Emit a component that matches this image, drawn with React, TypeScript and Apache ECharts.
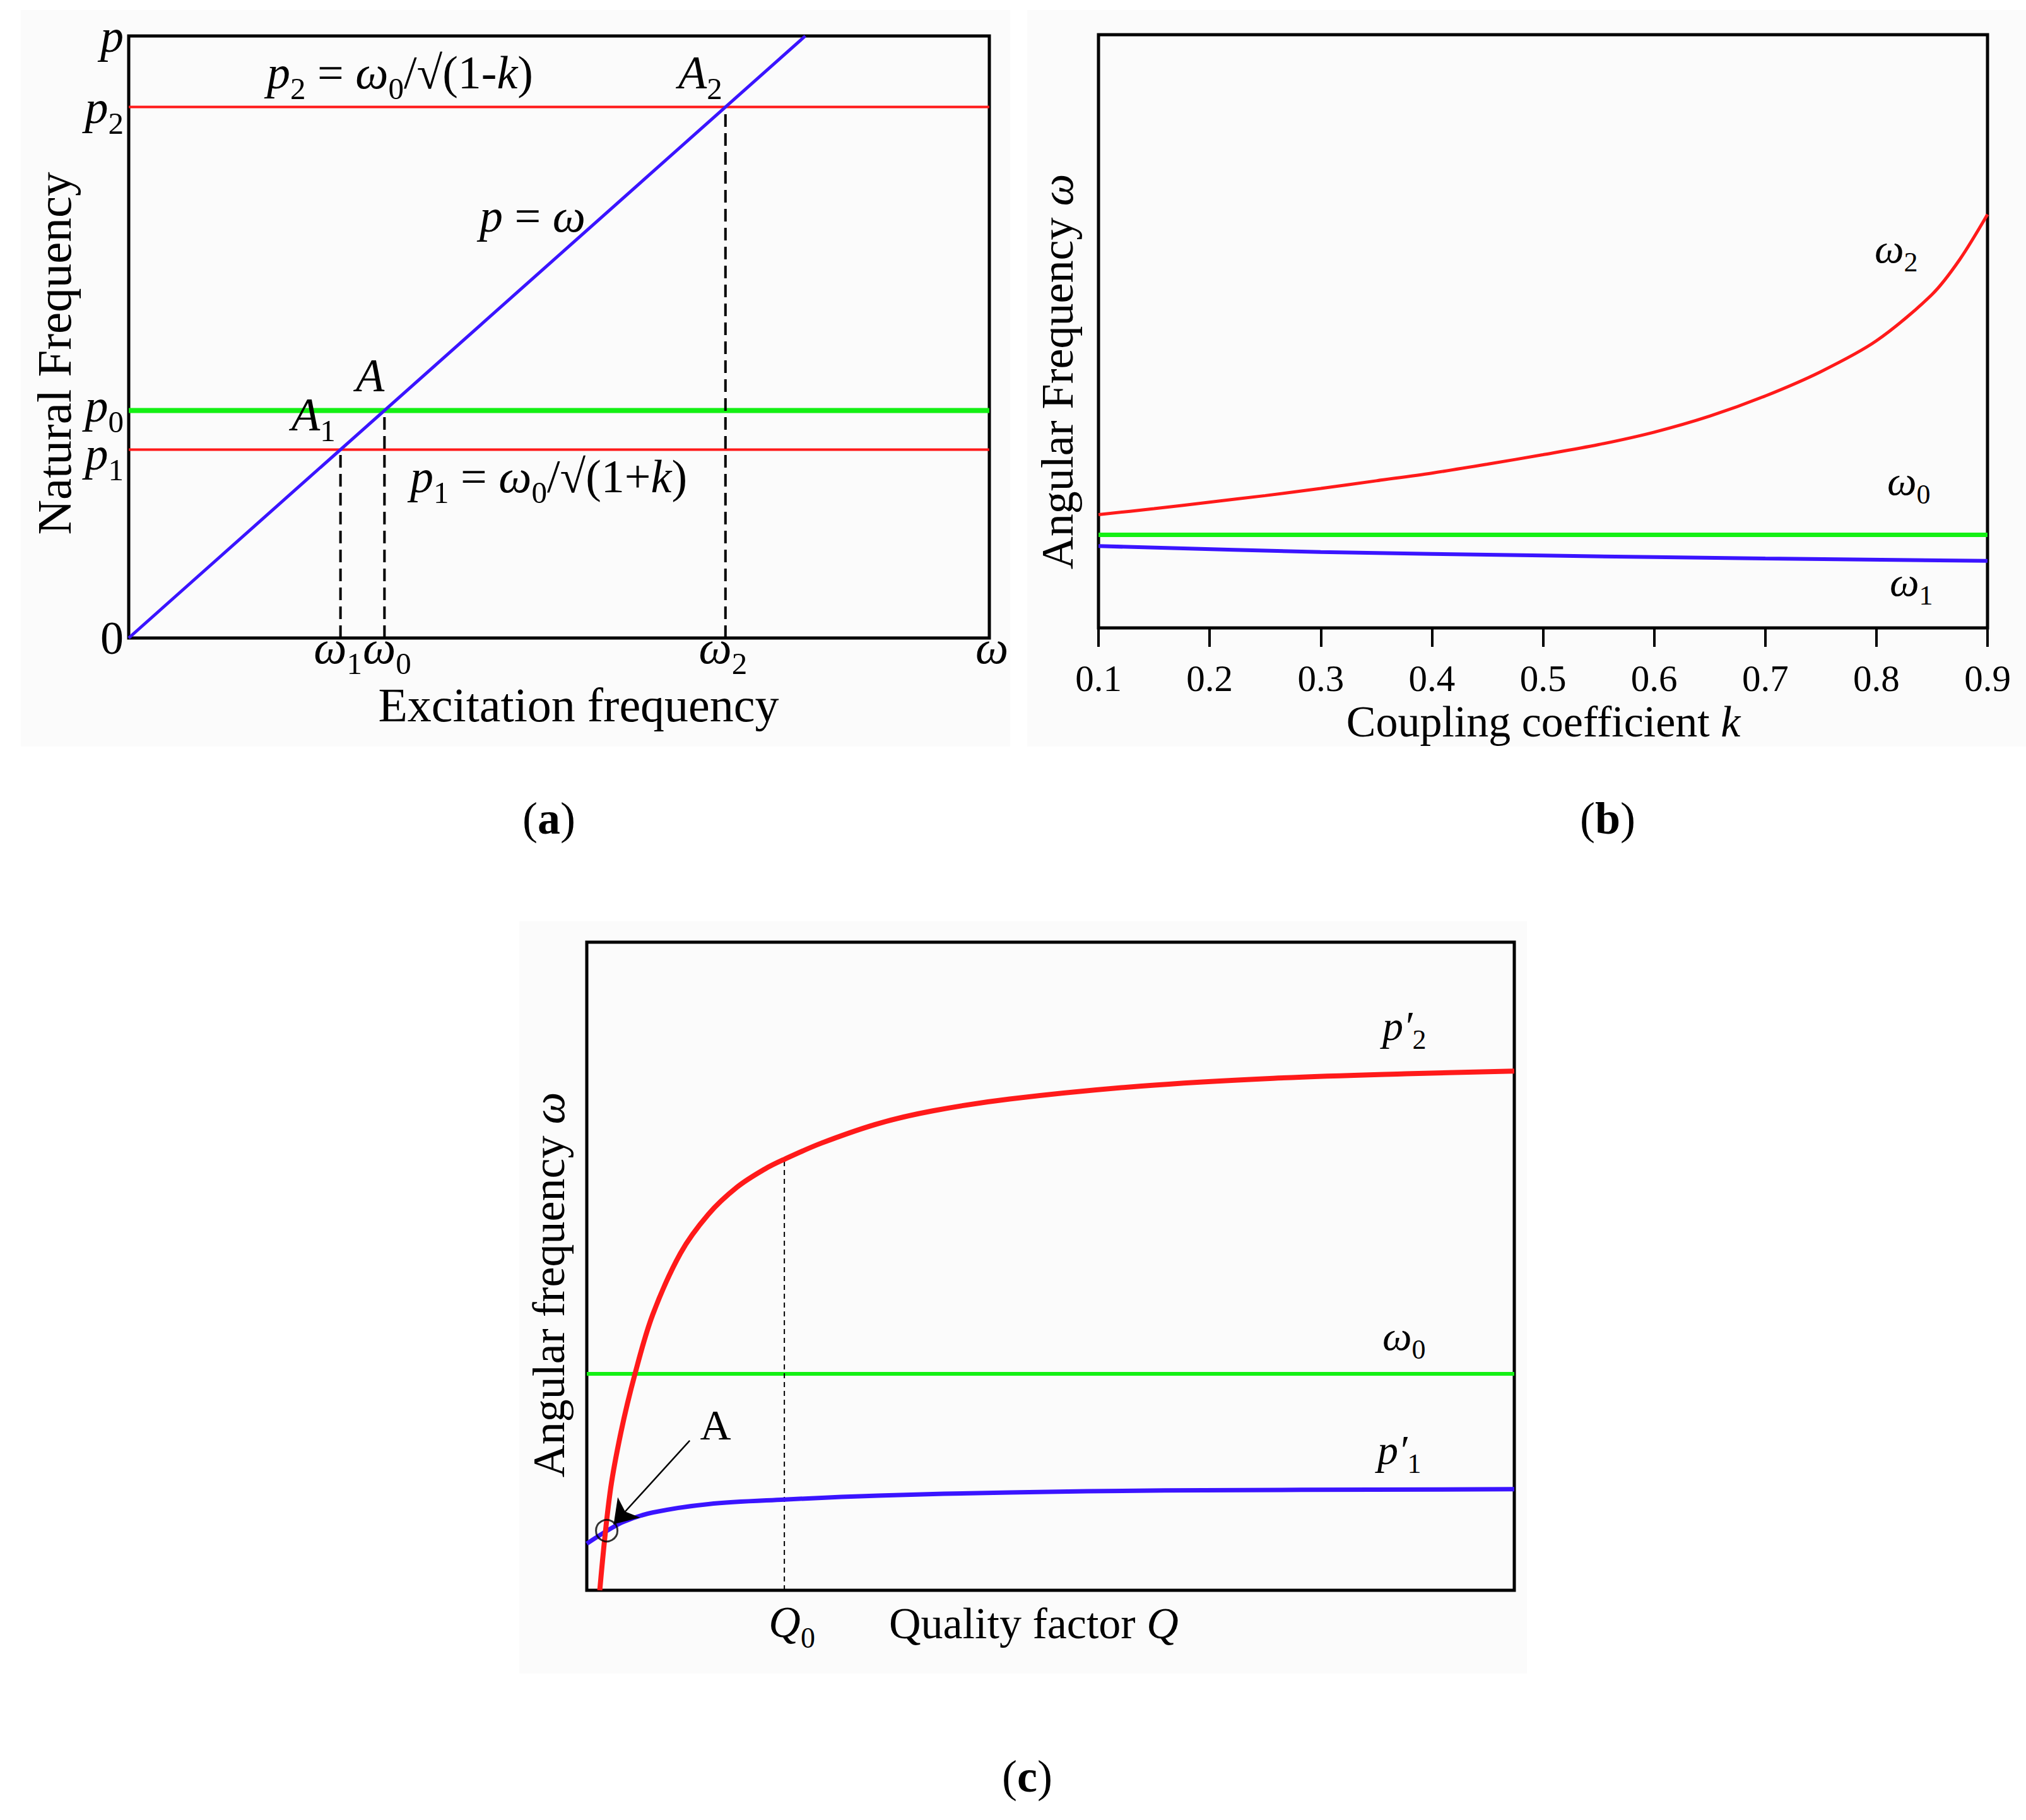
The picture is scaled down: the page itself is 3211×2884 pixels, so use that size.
import React, { useEffect, useRef } from 'react';
import * as echarts from 'echarts';

const SERIF = "'Liberation Serif', 'Times New Roman', serif";
const RED = '#ff1a1a';
const GREEN = '#14f014';
const BLUE = '#3a14ff';

// ---------- Panel (a) ----------
const aOmegaMax = 12.72;
const aPMax = 10;
const aDiagonal = [[0, 0], [10, 10]];
const aLevelP1 = 3.13;
const aLevelP0 = 3.78;
const aLevelP2 = 8.82;
const aXTickValues = [3.13, 3.78, 8.82, 12.72];
const aXTickSymbols = ['ω', 'ω', 'ω', 'ω'];
const aXTickSubs = ['1', '0', '2', ''];
const aYTickValues = [0, 3.13, 3.78, 8.82, 10];
const aYTickSymbols = ['0', 'p', 'p', 'p', 'p'];
const aYTickSubs = ['', '1', '0', '2', ''];

// ---------- Panel (b) ----------
const bK = [0.1, 0.15, 0.2, 0.25, 0.3, 0.35, 0.4, 0.45, 0.5, 0.55, 0.6, 0.65, 0.7, 0.75, 0.8, 0.85, 0.875, 0.9];
const bOmega2 = [1.91, 2.01, 2.12, 2.23, 2.35, 2.48, 2.61, 2.76, 2.92, 3.09, 3.3, 3.57, 3.91, 4.32, 4.84, 5.62, 6.21, 6.97];
const bK1 = [0.1, 0.3, 0.5, 0.7, 0.9];
const bOmega1 = [1.38, 1.28, 1.22, 1.17, 1.13];
const bOmega0 = 1.57;

// ---------- Panel (c) ----------
const cQ2 = [1.4, 2.5, 3.7, 5.2, 7.1, 10.1, 13.1, 16.2, 19.2, 21.3, 25.3, 31.4, 37.4, 45.6, 59.8, 74, 88.3, 100];
const cP2 = [0, 1.5, 2.45, 3.34, 4.25, 5.2, 5.8, 6.22, 6.5, 6.65, 6.9, 7.2, 7.4, 7.58, 7.78, 7.9, 7.97, 8.01];
const cQ1 = [0, 2.2, 4.0, 7.1, 13.1, 21.3, 31.4, 45.6, 62.3, 100];
const cP1 = [0.72, 0.92, 1.06, 1.2, 1.33, 1.4, 1.46, 1.51, 1.54, 1.56];
const cOmega0 = 3.34;
const cQ0 = 21.3;
const cQ0Level = 6.65;
const cPointA = [2.15, 0.92];
const cArrowFrom = [11.1, 2.31];
const cArrowTo = [2.9, 1.02];

const mkRich = (s: number) => ({
  i: { fontFamily: SERIF, fontStyle: 'italic', fontSize: s, lineHeight: Math.round(s * 1.35), color: '#000' },
  r: { fontFamily: SERIF, fontSize: s, lineHeight: Math.round(s * 1.35), color: '#000' },
  b: { fontFamily: SERIF, fontWeight: 'bold', fontSize: s, lineHeight: Math.round(s * 1.35), color: '#000' },
  s: { fontFamily: SERIF, fontSize: Math.round(s * 0.66), lineHeight: Math.round(s * 0.66), verticalAlign: 'bottom', color: '#000' },
});

const sym = (symbol: string, sub: string) => {
  const main = /[0-9]/.test(symbol) ? `{r|${symbol}}` : `{i|${symbol}}`;
  return sub ? `${main}{s|${sub}}` : main;
};

const findIdx = (arr: number[], v: number) => arr.findIndex((x) => Math.abs(x - v) < 1e-6);

const aXFormatter = (v: number) => {
  const i = findIdx(aXTickValues, v);
  return i < 0 ? '' : sym(aXTickSymbols[i], aXTickSubs[i]);
};

const aYFormatter = (v: number) => {
  const i = findIdx(aYTickValues, v);
  return i < 0 ? '' : sym(aYTickSymbols[i], aYTickSubs[i]);
};

const lineSeries = (idx: number, data: number[][], color: string, width: number, extra: any = {}) => ({
  type: 'line',
  xAxisIndex: idx,
  yAxisIndex: idx,
  data,
  symbol: 'none',
  silent: true,
  lineStyle: { color, width, cap: 'butt' },
  ...extra,
});

const gText = (x: number, y: number, text: string, size: number, extra: any = {}) => ({
  type: 'text',
  x,
  y,
  z: 50,
  silent: true,
  style: {
    text,
    rich: mkRich(size),
    align: 'left',
    verticalAlign: 'middle',
    fill: '#000',
    ...(extra.style || {}),
  },
  ...(extra.rotation !== undefined ? { rotation: extra.rotation } : {}),
});

const bgRect = (x1: number, y1: number, x2: number, y2: number) => ({
  type: 'rect',
  z: -100,
  silent: true,
  shape: { x: x1, y: y1, width: x2 - x1, height: y2 - y1 },
  style: { fill: '#fbfbfb' },
});

const frameGrid = (left: number, top: number, width: number, height: number) => ({
  left,
  top,
  width,
  height,
  show: true,
  borderColor: '#000',
  borderWidth: 5,
  backgroundColor: 'transparent',
  containLabel: false,
});

const plainAxis = (idx: number, min: number, max: number, extra: any = {}) => ({
  gridIndex: idx,
  type: 'value',
  min,
  max,
  axisLine: { show: false },
  axisTick: { show: false },
  splitLine: { show: false },
  axisLabel: { show: false },
  ...extra,
});

const aYAxis = (values: number[], padding: number[]) =>
  plainAxis(0, 0, aPMax, {
    position: 'left',
    offset: 0,
    axisLabel: {
      show: true,
      hideOverlap: false,
      customValues: values,
      margin: 8,
      padding,
      rich: mkRich(74),
      formatter: aYFormatter,
    },
  });

const option: any = {
  animation: false,
  backgroundColor: '#ffffff',
  grid: [
    frameGrid(204, 57, 1364, 954),
    frameGrid(1741, 55, 1409, 940),
    frameGrid(930, 1493, 1470, 1027),
  ],
  xAxis: [
    plainAxis(0, 0, aOmegaMax, {
      position: 'bottom',
      axisLabel: {
        show: true,
        hideOverlap: false,
        customValues: aXTickValues.filter((_, i) => i % 2 === 1),
        margin: -35,
        padding: [0, 0, 0, 8],
        rich: mkRich(74),
        formatter: aXFormatter,
      },
    }),
    plainAxis(1, 0.1, 0.9, {
      interval: 0.1,
      axisTick: { show: true, inside: false, length: 30, lineStyle: { color: '#000', width: 4 } },
      axisLabel: {
        show: true,
        fontFamily: SERIF,
        fontSize: 59,
        lineHeight: 60,
        color: '#000',
        margin: 50,
        formatter: (v: number) => v.toFixed(1),
      },
    }),
    plainAxis(2, 0, 100, {
      axisLabel: {
        show: true,
        hideOverlap: false,
        customValues: [cQ0],
        margin: 3,
        rich: mkRich(70),
        padding: [0, 0, 0, 24],
        formatter: () => sym('Q', '0'),
      },
    }),
    plainAxis(0, 0, aOmegaMax, {
      position: 'bottom',
      offset: 0,
      axisLabel: {
        show: true,
        hideOverlap: false,
        customValues: aXTickValues.filter((_, i) => i % 2 === 0),
        margin: -35,
        padding: [0, 8, 0, 0],
        rich: mkRich(74),
        formatter: aXFormatter,
      },
    }),
  ],
  yAxis: [
    aYAxis([aYTickValues[0], aYTickValues[3], aYTickValues[4]], [0, 0, 0, 0]),
    plainAxis(1, 0, 10),
    plainAxis(2, 0, 10),
    aYAxis([aYTickValues[2]], [0, 0, 14, 0]),
    aYAxis([aYTickValues[1]], [14, 0, 0, 0]),
  ],
  series: [
    // Panel (a)
    lineSeries(0, [[0, aLevelP2], [aOmegaMax, aLevelP2]], RED, 4),
    lineSeries(0, [[0, aLevelP1], [aOmegaMax, aLevelP1]], RED, 4),
    lineSeries(0, [[0, aLevelP0], [aOmegaMax, aLevelP0]], GREEN, 8),
    lineSeries(0, [[aLevelP1, 0], [aLevelP1, aLevelP1]], '#000', 4, { lineStyle: { color: '#000', width: 4, type: [20, 10] } }),
    lineSeries(0, [[aLevelP0, 0], [aLevelP0, aLevelP0]], '#000', 4, { lineStyle: { color: '#000', width: 4, type: [20, 10] } }),
    lineSeries(0, [[aLevelP2, 0], [aLevelP2, aLevelP2]], '#000', 4, { lineStyle: { color: '#000', width: 4, type: [20, 10] } }),
    lineSeries(0, aDiagonal, BLUE, 5),
    // Panel (b)
    lineSeries(1, bK.map((k, i) => [k, bOmega2[i]]), RED, 5, { smooth: 0.3 }),
    lineSeries(1, [[0.1, bOmega0], [0.9, bOmega0]], GREEN, 7),
    lineSeries(1, bK1.map((k, i) => [k, bOmega1[i]]), BLUE, 6, { smooth: 0.35 }),
    // Panel (c)
    lineSeries(2, [[0, cOmega0], [100, cOmega0]], GREEN, 6),
    lineSeries(2, [[cQ0, 0], [cQ0, cQ0Level]], '#000', 2, { lineStyle: { color: '#000', width: 2, type: [8, 6] } }),
    lineSeries(2, cQ1.map((q, i) => [q, cP1[i]]), BLUE, 7, { smooth: 0.35 }),
    lineSeries(2, cQ2.map((q, i) => [q, cP2[i]]), RED, 8, { smooth: 0.35 }),
    {
      type: 'scatter',
      xAxisIndex: 2,
      yAxisIndex: 2,
      silent: true,
      z: 10,
      data: [cPointA],
      symbol: 'circle',
      symbolSize: 34,
      itemStyle: { color: 'rgba(0,0,0,0)', borderColor: '#000', borderWidth: 3 },
      markLine: {
        silent: true,
        symbol: ['none', 'arrow'],
        symbolSize: 36,
        label: { show: false },
        lineStyle: { color: '#000', width: 2.5, type: 'solid' },
        data: [[{ coord: cArrowFrom }, { coord: cArrowTo }]],
      },
    },
  ],
  graphic: [
    bgRect(33, 16, 1601, 1183),
    bgRect(1628, 16, 3211, 1183),
    bgRect(823, 1460, 2420, 2652),
    // Panel (a) annotations
    gText(423, 115, '{i|p}{s|2}{r| = }{i|ω}{s|0}{r|/√(1-}{i|k}{r|)}', 74),
    gText(1075, 115, '{i|A}{s|2}', 74),
    gText(760, 342, '{i|p}{r| = }{i|ω}', 74),
    gText(564, 595, '{i|A}', 74),
    gText(462, 657, '{i|A}{s|1}', 74),
    gText(650, 755, '{i|p}{s|1}{r| = }{i|ω}{s|0}{r|/√(1+}{i|k}{r|)}', 74),
    gText(917, 1117, '{r|Excitation frequency}', 76, { style: { align: 'center' } }),
    gText(86, 560, '{r|Natural Frequency}', 77, { rotation: Math.PI / 2, style: { align: 'center' } }),
    // Panel (b) annotations
    gText(2971, 393, '{i|ω}{s|2}', 66),
    gText(2991, 761, '{i|ω}{s|0}', 66),
    gText(2995, 921, '{i|ω}{s|1}', 66),
    gText(2446, 1143, '{r|Coupling coefficient }{i|k}', 70, { style: { align: 'center' } }),
    gText(1676, 589, '{r|Angular Frequency }{i|ω}', 72, { rotation: Math.PI / 2, style: { align: 'center' } }),
    // Panel (c) annotations
    gText(2191, 1625, "{i|p′}{s|2}", 66),
    gText(2191, 2116, '{i|ω}{s|0}', 66),
    gText(2183, 2297, "{i|p′}{s|1}", 66),
    gText(1134, 2258, '{r|A}', 68, { style: { align: 'center' } }),
    gText(1409, 2572, '{r|Quality factor }{i|Q}', 70),
    gText(870, 2036, '{r|Angular frequency }{i|ω}', 72, { rotation: Math.PI / 2, style: { align: 'center' } }),
    // Captions
    gText(870, 1297, '{r|(}{b|a}{r|)}', 72, { style: { align: 'center' } }),
    gText(2548, 1297, '{r|(}{b|b}{r|)}', 72, { style: { align: 'center' } }),
    gText(1628, 2815, '{r|(}{b|c}{r|)}', 72, { style: { align: 'center' } }),
  ],
};

export default function App() {
  const ref = useRef<HTMLDivElement>(null);
  useEffect(() => {
    if (!ref.current) return;
    const chart = echarts.init(ref.current, null, { renderer: 'svg' });
    chart.setOption(option);
    return () => chart.dispose();
  }, []);
  return (
    <div
      ref={ref}
      style={{ position: 'absolute', left: 0, top: 0, width: 3211, height: 2884, background: '#ffffff' }}
    />
  );
}
